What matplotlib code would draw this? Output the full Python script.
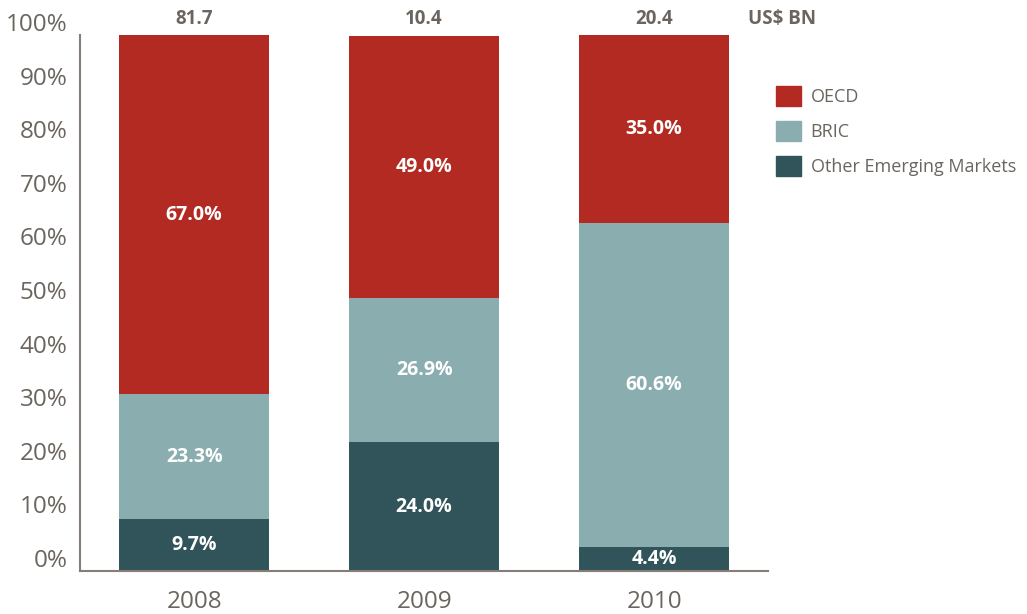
import numpy as np
import matplotlib.pyplot as plt
import matplotlib.transforms as mtransforms
from matplotlib.patches import Patch

plt.rcParams['font.family'] = ['Open Sans', 'DejaVu Sans']

# data
years = ['2008', '2009', '2010']
totals = ['81.7', '10.4', '20.4']
other_em = [9.7, 24.0, 4.4]
bric = [23.3, 26.9, 60.6]
oecd = [67.0, 49.0, 35.0]

c_oecd = '#B22A22'
c_bric = '#8AADB0'
c_other = '#31535A'
grey = '#6B655F'

fig = plt.figure(figsize=(10.27, 6.14), dpi=100)
ax = fig.add_axes([0.078, 0.070, 0.670, 0.873])

x = np.arange(len(years))
w = 0.652
ax.bar(x, other_em, w, color=c_other)
ax.bar(x, bric, w, bottom=other_em, color=c_bric)
base = np.array(other_em) + np.array(bric)
ax.bar(x, oecd, w, bottom=base, color=c_oecd)

# segment labels
lab = dict(ha='center', va='center', color='white', fontsize=14, fontweight='bold')
for i in range(len(years)):
    ax.text(x[i], other_em[i] / 2, f'{other_em[i]:.1f}%', **lab)
    ax.text(x[i], other_em[i] + bric[i] / 2, f'{bric[i]:.1f}%', **lab)
    ax.text(x[i], base[i] + oecd[i] / 2, f'{oecd[i]:.1f}%', **lab)
    ax.text(x[i], 102.9, totals[i], ha='center', va='center',
            color=grey, fontsize=13.5, fontweight='bold')

ax.text(2.41, 102.9, 'US$ BN', ha='left', va='center', color=grey,
        fontsize=13.5, fontweight='bold', clip_on=False)

ax.set_xlim(-0.496, 2.496)
ax.set_ylim(0, 100)
ax.set_yticks(np.arange(0, 101, 10))
ax.set_yticklabels([f'{v}%' for v in range(0, 101, 10)])
ax.set_xticks(x)
ax.set_xticklabels(years)
ax.tick_params(axis='both', length=0, labelsize=17.5, colors=grey)
ax.tick_params(axis='y', pad=9)
ax.tick_params(axis='x', pad=14)

# y labels sit a bit above their gridline in the original
shift = mtransforms.ScaledTranslation(0, 0.13, fig.dpi_scale_trans)
for t in ax.get_yticklabels():
    t.set_transform(t.get_transform() + shift)

for s in ['top', 'right']:
    ax.spines[s].set_visible(False)
for s in ['left', 'bottom']:
    ax.spines[s].set_color('#857d76')
    ax.spines[s].set_linewidth(1.5)

handles = [Patch(color=c_oecd, label='OECD'),
           Patch(color=c_bric, label='BRIC'),
           Patch(color=c_other, label='Other Emerging Markets')]
fig.legend(handles=handles, loc='upper left', bbox_to_anchor=(0.740, 0.887),
           frameon=False, fontsize=13, handlelength=1.35, handleheight=1.35,
           labelspacing=0.82, handletextpad=0.55, labelcolor=grey)

fig.savefig('out.png', dpi=100)
